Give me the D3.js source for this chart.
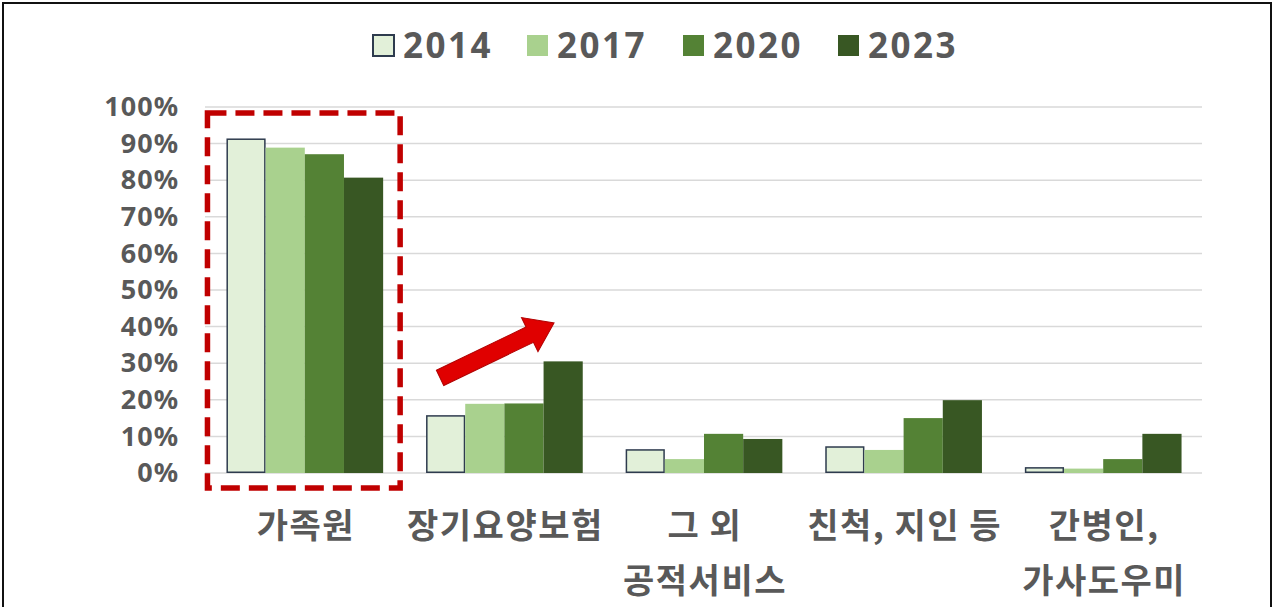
<!DOCTYPE html>
<html><head><meta charset="utf-8">
<script src="https://cdn.jsdelivr.net/npm/d3@7/dist/d3.min.js"></script>
<style>
html,body{margin:0;padding:0;background:#fff;}
svg{display:block;}
</style></head>
<body>
<svg id="chart" width="1274" height="607"></svg>
<script>
// ---- data ----
const categories = [["가족원"], ["장기요양보험"], ["그 외", "공적서비스"], ["친척, 지인 등"], ["간병인,", "가사도우미"]];
const years = ["2014", "2017", "2020", "2023"];
const v2014 = [0.912, 0.156, 0.063, 0.071, 0.014];
const v2017 = [0.889, 0.189, 0.038, 0.063, 0.012];
const v2020 = [0.871, 0.190, 0.107, 0.150, 0.038];
const v2023 = [0.807, 0.305, 0.093, 0.199, 0.107];
const yTicks = [0, 0.1, 0.2, 0.3, 0.4, 0.5, 0.6, 0.7, 0.8, 0.9, 1.0];
const series = [v2014, v2017, v2020, v2023];

// ---- styles ----
const fills = ["#E2F0D9", "#A9D18E", "#548235", "#385723"];
const strokes = ["#2E3B4E", "none", "none", "none"];
const textCol = "#595959";

const svg = d3.select("#chart");
const W = 1274, H = 607;

// frame
svg.append("rect").attr("x", 3).attr("y", 3).attr("width", W - 6).attr("height", H + 10)
  .attr("fill", "none").attr("stroke", "#111").attr("stroke-width", 2);

const catIdx = d3.range(categories.length);
const x = d3.scaleBand().domain(catIdx).range([205, 1203]).paddingInner(0.215).paddingOuter(0.1075);
const xs = d3.scaleBand().domain(d3.range(years.length)).range([0, x.bandwidth()]).padding(0);
const y = d3.scaleLinear().domain([0, 1]).range([473, 107]);

// gridlines
svg.append("g").selectAll("line").data(yTicks).join("line")
  .attr("x1", 205).attr("x2", 1202)
  .attr("y1", d => y(d)).attr("y2", d => y(d))
  .attr("stroke", "#d9d9d9").attr("stroke-width", 1.5);

// y axis labels
const yAxis = d3.axisLeft(y).tickValues(yTicks).tickFormat(d => Math.round(d * 100) + "%").tickSize(0).tickPadding(0);
const gy = svg.append("g").attr("transform", "translate(179,0)").call(yAxis);
gy.select(".domain").remove();
gy.selectAll("text").attr("font-family", "'Noto Sans', 'DejaVu Sans', sans-serif")
  .attr("font-weight", "bold").attr("font-size", 27).attr("letter-spacing", 1).attr("fill", textCol);

// bars
const groups = svg.append("g").selectAll("g").data(catIdx).join("g")
  .attr("transform", i => `translate(${x(i)},0)`);
groups.selectAll("rect").data(i => series.map((s, k) => ({ k, v: s[i] }))).join("rect")
  .attr("x", d => xs(d.k) + (d.k === 0 ? 0.75 : 0))
  .attr("width", d => xs.bandwidth() - (d.k === 0 ? 1.5 : 0))
  .attr("y", d => y(d.v))
  .attr("height", d => y(0) - y(d.v) - (d.k === 0 ? 0.75 : 0))
  .attr("fill", d => fills[d.k])
  .attr("stroke", d => strokes[d.k])
  .attr("stroke-width", 1.5);

// category labels
const xl = svg.append("g");
catIdx.forEach(i => {
  const cx = x(i) + x.bandwidth() / 2 + 1;
  categories[i].forEach((line, j) => {
    xl.append("text").attr("x", cx).attr("y", 526 + j * 55).attr("dy", "0.35em")
      .attr("text-anchor", "middle")
      .attr("font-family", "'Noto Sans CJK KR', 'Noto Sans', sans-serif")
      .attr("font-weight", "bold").attr("font-size", 34).attr("letter-spacing", 1.5).attr("fill", textCol)
      .text(line);
  });
});

// legend
const legX = [373, 527, 683, 838];
const leg = svg.append("g");
years.forEach((yr, k) => {
  leg.append("rect").attr("x", legX[k]).attr("y", 35).attr("width", 21).attr("height", 21)
    .attr("fill", fills[k]).attr("stroke", k === 0 ? strokes[0] : "none").attr("stroke-width", 2);
  leg.append("text").attr("x", legX[k] + 30).attr("y", 45).attr("dy", "0.36em")
    .attr("font-family", "'Noto Sans', 'DejaVu Sans', sans-serif")
    .attr("font-weight", "bold").attr("font-size", 35).attr("letter-spacing", 2.5).attr("fill", textCol)
    .text(yr);
});

// red dashed highlight box around first category
const bx0 = x(0) - 19, bx1 = x(0) + x.bandwidth() + 17;
svg.append("rect").attr("x", bx0).attr("y", y(1) + 6).attr("width", bx1 - bx0).attr("height", y(0) - y(1) + 9)
  .attr("fill", "none").attr("stroke", "#C00000").attr("stroke-width", 5.5)
  .attr("stroke-dasharray", "19,9");

// red arrow
const ax0 = x(1) + 14, ay0 = y(0.26), ax1 = x(1) + 128, ay1 = y(0.41);
const ang = Math.atan2(ay1 - ay0, ax1 - ax0) * 180 / Math.PI;
const L = Math.hypot(ax1 - ax0, ay1 - ay0);
const sw = 8.5, hw = 19, hl = 27;
svg.append("path")
  .attr("transform", `translate(${ax0},${ay0}) rotate(${ang})`)
  .attr("d", `M0,${-sw} L${L - hl},${-sw} L${L - hl},${-hw} L${L},0 L${L - hl},${hw} L${L - hl},${sw} L0,${sw} Z`)
  .attr("fill", "#E00000").attr("stroke", "#B00000").attr("stroke-width", 1);
</script>
</body></html>
